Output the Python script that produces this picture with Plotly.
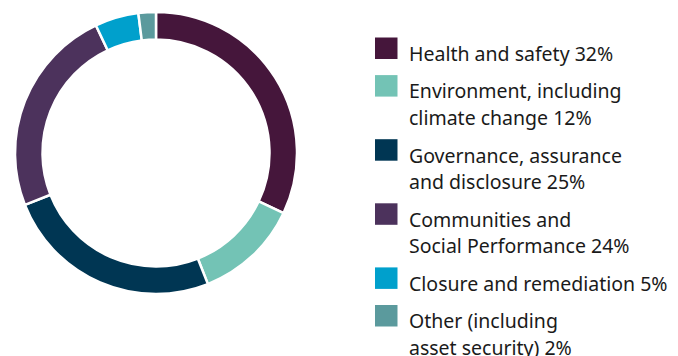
import plotly.graph_objects as go

# Data
labels = ["Health and safety", "Environment, including climate change",
          "Governance, assurance and disclosure", "Communities and Social Performance",
          "Closure and remediation", "Other (including asset security)"]
values = [32, 12, 25, 24, 5, 2]
legend_lines = [
    ["Health and safety 32%"],
    ["Environment, including", "climate change 12%"],
    ["Governance, assurance", "and disclosure 25%"],
    ["Communities and", "Social Performance 24%"],
    ["Closure and remediation 5%"],
    ["Other (including", "asset security) 2%"],
]
colors = ["#45163b", "#73c3b5", "#003653", "#4c325c", "#00a0cc", "#5b9a9d"]

W, H = 678, 356
cx, cy, R = 156, 153, 141

fig = go.Figure(go.Pie(
    labels=labels, values=values, hole=0.805, sort=False, direction="clockwise",
    rotation=0, textinfo="none", hoverinfo="label+percent",
    marker=dict(colors=colors, line=dict(color="white", width=2.5)),
    domain=dict(x=[(cx - R) / W, (cx + R) / W], y=[1 - (cy + R) / H, 1 - (cy - R) / H]),
    showlegend=False,
))

FONT = "Noto Sans"
FS = 19.5
ASC = 21.6  # baseline offset from annotation top (px)
sq_x0, sq_x1, sq_h = 375, 397.5, 21.5
top = 37.5
line_h = 26.5
shapes, anns = [], []
for lines, col in zip(legend_lines, colors):
    shapes.append(dict(type="rect", xref="paper", yref="paper",
                       x0=sq_x0 / W, x1=sq_x1 / W, y0=1 - (top + sq_h) / H, y1=1 - top / H,
                       fillcolor=col, line=dict(width=0)))
    base = top + sq_h + 0.5
    for k, t in enumerate(lines):
        b = base + k * line_h
        anns.append(dict(xref="paper", yref="paper", x=407 / W, y=1 - (b - ASC) / H,
                         xanchor="left", yanchor="top", text=t, showarrow=False,
                         font=dict(family=FONT, size=FS, color="#1a1a1a")))
    top += 37.6 + line_h * (len(lines) - 1)

fig.update_layout(width=W, height=H, margin=dict(l=0, r=0, t=0, b=0),
                  paper_bgcolor="white", plot_bgcolor="white",
                  shapes=shapes, annotations=anns)
fig.write_html("out.html")
